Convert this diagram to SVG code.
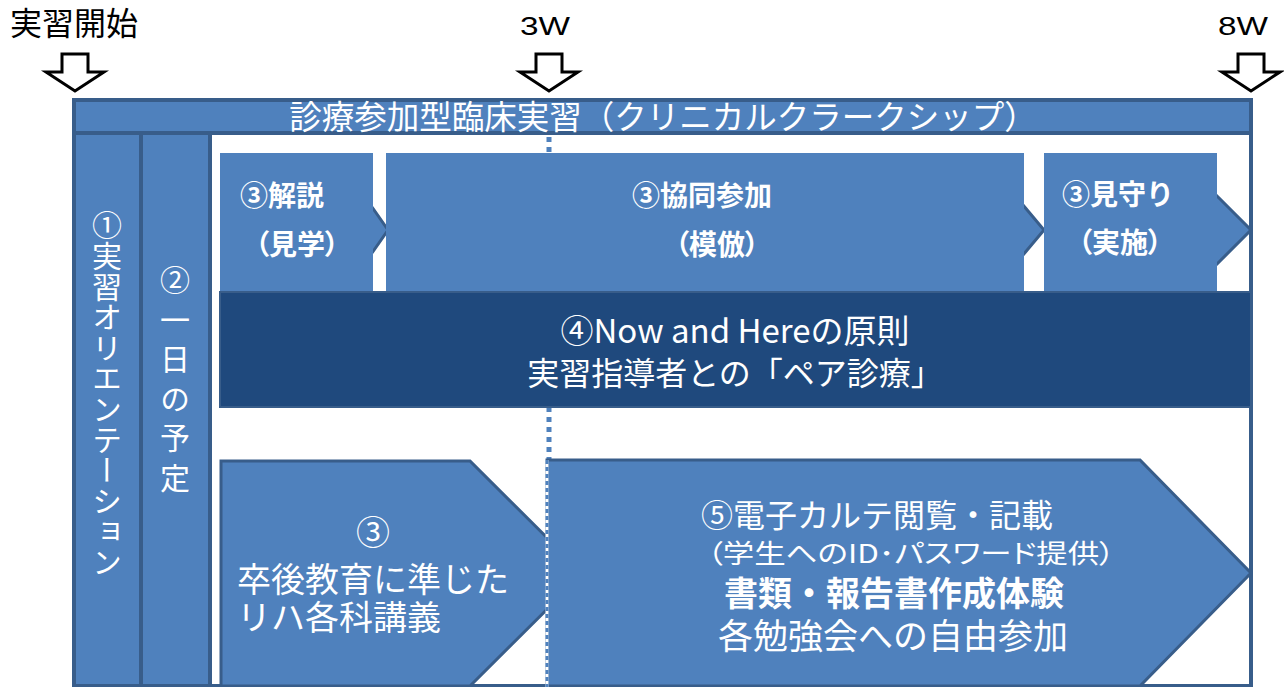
<svg xmlns="http://www.w3.org/2000/svg" width="1284" height="687" viewBox="0 0 1284 687">
<defs>
<style>
.t{font-family:"Noto Sans CJK JP","Noto Sans CJK SC",sans-serif;fill:#fff}
.b{font-weight:bold}
.p{font-feature-settings:"palt"}
.c{text-anchor:middle}
.blk{fill:#4F81BD}
.box{fill:#4F81BD;stroke:#385D8A;stroke-width:4}
.edge{fill:#4F81BD;stroke:#385D8A;stroke-width:3;stroke-linejoin:miter}
.tip{fill:#4F81BD;stroke:#385D8A;stroke-width:3}
.lbl{font-family:"Noto Sans CJK JP","Noto Sans CJK SC",sans-serif;fill:#000}
.num{font-family:"Liberation Sans",Arial,sans-serif;fill:#000}
.arr{fill:#fff;stroke:#000;stroke-width:3;stroke-linejoin:miter}
.dot{fill:none;stroke:#4F81BD;stroke-width:5;stroke-dasharray:5 5}
</style>
</defs>
<rect width="1284" height="687" fill="#fff"/>

<g id="timeline-labels">
<text class="lbl" x="10" y="35" font-size="32">実習開始</text>
<text class="num" x="520" y="35" font-size="25" textLength="50" lengthAdjust="spacingAndGlyphs">3W</text>
<text class="num" x="1218" y="35" font-size="25" textLength="50" lengthAdjust="spacingAndGlyphs">8W</text>
</g>

<g id="frame">
<rect x="74" y="100" width="1177" height="586" fill="#fff" stroke="#385D8A" stroke-width="4"/>
</g>

<g id="connectors">
<polygon class="arr" points="62,54 88,54 88,72 104,72 75,91 46,72 62,72"/>
<polygon class="arr" points="536,54 562,54 562,72 578,72 549,91 520,72 536,72"/>
<polygon class="arr" points="1238,54 1264,54 1264,72 1280,72 1251,91 1222,72 1238,72"/>
<line class="dot" x1="549" y1="137" x2="549" y2="460"/>
</g>

<g id="header">
<rect class="box" x="74" y="100" width="1177" height="33"/>
<text class="t c" x="663" y="129" font-size="32.5">診療参加型臨床実習（クリニカルクラークシップ）</text>
</g>

<g id="orientation">
<rect class="box" x="74" y="133" width="67" height="553"/>
<text class="t" x="107" y="210" font-size="30" letter-spacing="0.6" writing-mode="vertical-rl">①実習オリエンテーション</text>
</g>

<g id="daily-schedule">
<rect class="box" x="141" y="133" width="69" height="553"/>
<text class="t" x="175" y="265" font-size="30" letter-spacing="9.5" writing-mode="vertical-rl">②一日の予定</text>
</g>

<g id="explanation">
<path class="tip" d="M372,207 L388,230 L372,253"/>
<rect class="blk" x="220" y="153" width="153" height="138"/>
<text class="t b" x="240" y="206" font-size="28">③解説</text>
<text class="t b p c" x="297" y="255" font-size="28">（見学）</text>
</g>

<g id="joint-participation">
<path class="tip" d="M1023,205 L1044,230 L1023,255"/>
<rect class="blk" x="386" y="153" width="638" height="138"/>
<text class="t b c" x="702" y="206" font-size="28">③協同参加</text>
<text class="t b p c" x="717" y="255" font-size="28">（模倣）</text>
</g>

<g id="supervision">
<path class="tip" d="M1216,195 L1251,230 L1216,265"/>
<rect class="blk" x="1044" y="153" width="173" height="138"/>
<text class="t b" x="1062" y="205" font-size="28">③見守り</text>
<text class="t b p c" x="1120" y="253" font-size="28">（実施）</text>
</g>

<g id="now-and-here">
<rect x="220" y="292" width="1031" height="115" fill="#1F497D" stroke="#385D8A" stroke-width="2"/>
<text class="t c" x="735" y="343" font-size="33">④Now and Hereの原則</text>
<text class="t c" x="735" y="385" font-size="32">実習指導者との「ペア診療」</text>
</g>

<g id="lectures">
<polygon class="edge" points="221,461 470,461 583,573.5 470,686 221,686"/>
<text class="t c" x="373" y="545" font-size="34">③</text>
<text class="t" x="237" y="592" font-size="34">卒後教育に準じた</text>
<text class="t" x="237" y="630" font-size="34">リハ各科講義</text>
</g>

<g id="electronic-records">
<polygon class="edge" points="547,460 1140,460 1251,573 1140,686 547,686"/>
<line x1="547" y1="460" x2="547" y2="687" stroke="#fff" stroke-width="3"/>
<line x1="547" y1="460" x2="547" y2="687" stroke="#4F81BD" stroke-width="3" stroke-dasharray="4 3"/>
<text class="t c" x="877" y="527" font-size="32">⑤電子カルテ閲覧・記載</text>
<text class="t p" x="707" y="563" font-size="26" textLength="408" lengthAdjust="spacingAndGlyphs">（学生へのID･パスワード提供）</text>
<text class="t b c" x="894" y="606" font-size="34">書類・報告書作成体験</text>
<text class="t c" x="893" y="649" font-size="35">各勉強会への自由参加</text>
</g>
</svg>
